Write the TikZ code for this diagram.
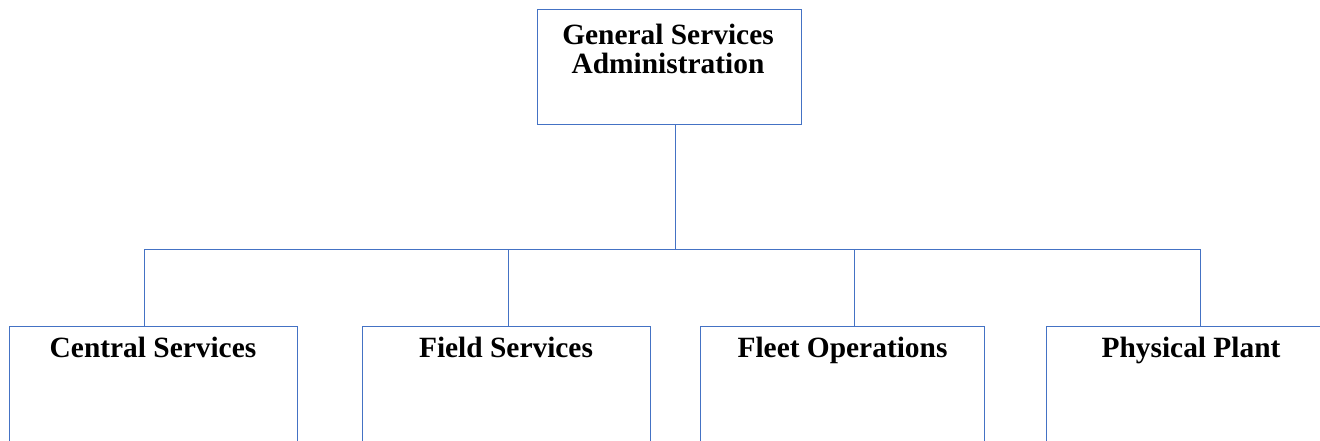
\documentclass[tikz,border=0pt]{standalone}
\usepackage{fontspec}
\setmainfont{Liberation Serif}
\usepackage{tikz}
\usetikzlibrary{positioning}
\definecolor{chartBlue}{RGB}{68,114,196}
\tikzset{
  unit/.style={draw=chartBlue, line width=1pt, inner sep=0},
  unitname/.style={font=\fontsize{29.4}{29.4}\selectfont\bfseries, align=center, inner sep=0, anchor=base},
  link/.style={draw=chartBlue, line width=1pt},
}

\begin{document}
\begin{tikzpicture}[x=1pt, y=1pt]
  \useasboundingbox (0,0) rectangle (1320,440);

  % head office
  \node[unit, minimum width=264pt, minimum height=115.3pt] (gsa) at (669,373.3) {};
  \node[unitname] (gsaName) at (668,366) {General Services\\Administration};

  % divisions, cut off at the page edge
  \node[unit, minimum width=288pt, minimum height=144pt] (cs) at (153,42) {};
  \node[unit, minimum width=288pt, minimum height=144pt] (fs) at (506,42) {};
  \node[unit, minimum width=284pt, minimum height=144pt] (fo) at (842.5,42) {};
  \node[unit, minimum width=288pt, minimum height=144pt] (pp) at (1190,42) {};
  \node[unitname] (csName) at (153,82.7) {Central Services};
  \node[unitname] (fsName) at (506,82.7) {Field Services};
  \node[unitname] (foName) at (842.5,82.7) {Fleet Operations};
  \node[unitname] (ppName) at (1191,82.7) {Physical Plant};

  \coordinate (bus) at (675.7,191);
  \draw[link] (gsa.south -| bus) -- (bus);
  \draw[link] ([xshift=-9pt]cs.north) |- (bus);
  \draw[link] ([xshift=2.7pt]fs.north) |- (bus);
  \draw[link] ([xshift=11.5pt]fo.north) |- (bus);
  \draw[link] ([xshift=10pt]pp.north) |- (bus);
\end{tikzpicture}
\end{document}
